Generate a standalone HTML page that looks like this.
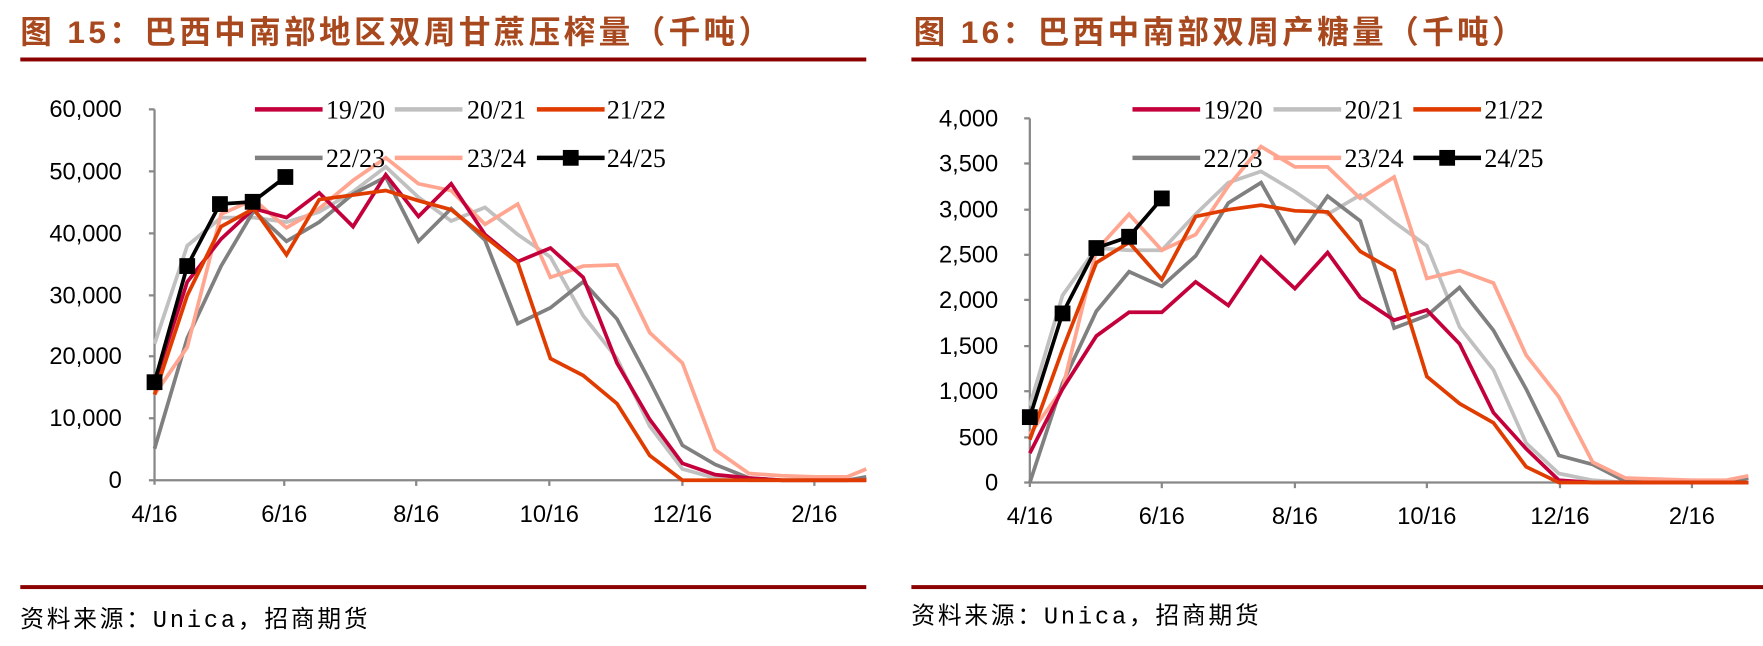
<!DOCTYPE html>
<html><head><meta charset="utf-8"><style>
html,body{margin:0;padding:0;background:#fff;}
svg{display:block;}
.t{font-family:"Liberation Sans","Noto Sans CJK SC",sans-serif;font-weight:bold;fill:#A8481E;font-size:28px;letter-spacing:3px;}
.ax{font-family:"Liberation Sans",sans-serif;font-size:21px;fill:#000;}
.lg{font-family:"Liberation Serif",serif;font-size:23px;fill:#000;}
.src{font-family:"Liberation Mono","Noto Sans CJK SC",monospace;font-size:21px;fill:#000;letter-spacing:2.5px;}
polyline{fill:none;stroke-width:3.3;stroke-linejoin:miter;}
</style></head><body>
<svg width="1763" height="646" viewBox="0 0 1563 573" preserveAspectRatio="none">
<!-- LEFT -->
<text class="t" x="18" y="38">图 15：巴西中南部地区双周甘蔗压榨量（千吨）</text>
<rect x="18" y="51" width="750" height="3.5" fill="#8B0000"/>
<rect x="18" y="519" width="750" height="3.5" fill="#8B0000"/>
<text class="src" x="18" y="556">资料来源：Unica，招商期货</text>
<g stroke="#888" stroke-width="2">
<line x1="137" y1="97" x2="137" y2="430"/>
<line x1="137" y1="426" x2="768" y2="426"/>
<line x1="132" y1="97" x2="137" y2="97"/><line x1="132" y1="152" x2="137" y2="152"/><line x1="132" y1="207" x2="137" y2="207"/><line x1="132" y1="262" x2="137" y2="262"/><line x1="132" y1="316" x2="137" y2="316"/><line x1="132" y1="371" x2="137" y2="371"/><line x1="132" y1="426" x2="137" y2="426"/>
<line x1="252" y1="426" x2="252" y2="431"/><line x1="369" y1="426" x2="369" y2="431"/><line x1="487" y1="426" x2="487" y2="431"/><line x1="605" y1="426" x2="605" y2="431"/><line x1="722" y1="426" x2="722" y2="431"/>
</g>
<g class="ax" text-anchor="end">
<text x="108" y="104">60,000</text><text x="108" y="159">50,000</text><text x="108" y="214">40,000</text><text x="108" y="269">30,000</text><text x="108" y="323">20,000</text><text x="108" y="378">10,000</text><text x="108" y="433">0</text>
</g>
<g class="ax" text-anchor="middle">
<text x="137" y="463">4/16</text><text x="252" y="463">6/16</text><text x="369" y="463">8/16</text><text x="487" y="463">10/16</text><text x="605" y="463">12/16</text><text x="722" y="463">2/16</text>
</g>
<polyline stroke="#C0C0C0" points="137,305 166,218 196,193 225,193 254,197 283,188 313,170 342,148 371,175 400,196 430,184 459,208 488,228 517,280 547,318 576,378 605,416 634,424 664,426 693,426 722,426 768,426"/>
<polyline stroke="#808080" points="137,398 166,300 196,236 225,187 254,214 283,197 313,172 342,157 371,214 400,185 430,213 459,287 488,273 517,250 547,283 576,338 605,395 634,412 664,424 693,426 722,426 751,426 768,423"/>
<polyline stroke="#FFA590" points="137,350 166,308 196,190 225,177 254,202 283,185 313,160 342,140 371,163 400,169 430,199 459,181 488,246 517,236 547,235 576,295 605,322 634,399 664,420 693,422 722,423 751,423 768,416"/>
<polyline stroke="#C4003C" points="137,340 166,250 196,212 225,185 254,193 283,171 313,201 342,155 371,192 400,163 430,208 459,232 488,220 517,246 547,322 576,372 605,411 634,421 664,424 693,426 722,426 768,426"/>
<polyline stroke="#E03C00" points="137,350 166,262 196,201 225,185 254,226 283,177 313,173 342,169 371,178 400,186 430,210 459,233 488,318 517,333 547,358 576,404 605,426 634,426 664,426 722,426 768,426"/>
<polyline stroke="#000" points="137,339 166,236 195,181 224,179 253,157"/>
<g fill="#000"><rect x="130" y="332" width="14" height="14"/><rect x="159" y="229" width="14" height="14"/><rect x="188" y="174" width="14" height="14"/><rect x="217" y="172" width="14" height="14"/><rect x="246" y="150" width="14" height="14"/></g>
<g stroke-width="4">
<line x1="226" y1="97" x2="286" y2="97" stroke="#C4003C"/>
<line x1="350" y1="97" x2="410" y2="97" stroke="#C0C0C0"/>
<line x1="476" y1="97" x2="536" y2="97" stroke="#E03C00"/>
<line x1="226" y1="140" x2="286" y2="140" stroke="#808080"/>
<line x1="350" y1="140" x2="410" y2="140" stroke="#FFA590"/>
<line x1="476" y1="140" x2="536" y2="140" stroke="#000"/>
</g>
<rect x="499" y="133" width="14" height="14" fill="#000"/>
<g class="lg"><text x="289" y="105">19/20</text><text x="414" y="105">20/21</text><text x="538" y="105">21/22</text><text x="289" y="148">22/23</text><text x="414" y="148">23/24</text><text x="538" y="148">24/25</text></g>

<!-- RIGHT -->
<text class="t" x="810" y="38">图 16：巴西中南部双周产糖量（千吨）</text>
<rect x="808" y="51" width="755" height="3.5" fill="#8B0000"/>
<rect x="808" y="519" width="755" height="3.5" fill="#8B0000"/>
<text class="src" x="808" y="553">资料来源：Unica，招商期货</text>
<g stroke="#888" stroke-width="2">
<line x1="913" y1="105" x2="913" y2="432"/>
<line x1="913" y1="428" x2="1550" y2="428"/>
<line x1="908" y1="105" x2="913" y2="105"/><line x1="908" y1="145" x2="913" y2="145"/><line x1="908" y1="186" x2="913" y2="186"/><line x1="908" y1="226" x2="913" y2="226"/><line x1="908" y1="266" x2="913" y2="266"/><line x1="908" y1="307" x2="913" y2="307"/><line x1="908" y1="347" x2="913" y2="347"/><line x1="908" y1="388" x2="913" y2="388"/><line x1="908" y1="428" x2="913" y2="428"/>
<line x1="1030" y1="428" x2="1030" y2="433"/><line x1="1148" y1="428" x2="1148" y2="433"/><line x1="1265" y1="428" x2="1265" y2="433"/><line x1="1383" y1="428" x2="1383" y2="433"/><line x1="1500" y1="428" x2="1500" y2="433"/>
</g>
<g class="ax" text-anchor="end">
<text x="885" y="112">4,000</text><text x="885" y="152">3,500</text><text x="885" y="193">3,000</text><text x="885" y="233">2,500</text><text x="885" y="273">2,000</text><text x="885" y="314">1,500</text><text x="885" y="354">1,000</text><text x="885" y="395">500</text><text x="885" y="435">0</text>
</g>
<g class="ax" text-anchor="middle">
<text x="913" y="465">4/16</text><text x="1030" y="465">6/16</text><text x="1148" y="465">8/16</text><text x="1265" y="465">10/16</text><text x="1383" y="465">12/16</text><text x="1500" y="465">2/16</text>
</g>
<polyline stroke="#C0C0C0" points="913,360 942,262 972,220 1001,222 1030,222 1060,190 1089,162 1118,152 1148,170 1177,190 1206,173 1236,197 1265,218 1294,290 1324,328 1353,393 1382,420 1412,426 1441,428 1500,428 1550,428"/>
<polyline stroke="#808080" points="913,428 942,340 972,276 1001,241 1030,254 1060,227 1089,180 1118,162 1148,215 1177,174 1206,196 1236,291 1265,280 1294,255 1324,293 1353,345 1382,404 1412,412 1441,427 1500,428 1530,428 1550,424"/>
<polyline stroke="#FFA590" points="913,385 942,345 972,222 1001,190 1030,222 1060,208 1089,165 1118,130 1148,148 1177,148 1206,176 1236,157 1265,247 1294,240 1324,251 1353,315 1382,352 1412,410 1441,424 1470,425 1500,426 1530,426 1550,422"/>
<polyline stroke="#C4003C" points="913,402 942,345 972,298 1001,277 1030,277 1060,250 1089,271 1118,228 1148,256 1177,224 1206,264 1236,284 1265,275 1294,305 1324,366 1353,398 1382,426 1412,428 1550,428"/>
<polyline stroke="#E03C00" points="913,390 942,310 972,233 1001,215 1030,248 1060,192 1089,186 1118,182 1148,187 1177,188 1206,223 1236,240 1265,334 1294,358 1324,375 1353,414 1382,428 1550,428"/>
<polyline stroke="#000" points="913,370 942,278 972,220 1001,210 1030,176"/>
<g fill="#000"><rect x="906" y="363" width="14" height="14"/><rect x="935" y="271" width="14" height="14"/><rect x="965" y="213" width="14" height="14"/><rect x="994" y="203" width="14" height="14"/><rect x="1023" y="169" width="14" height="14"/></g>
<g stroke-width="4">
<line x1="1004" y1="97" x2="1064" y2="97" stroke="#C4003C"/>
<line x1="1129" y1="97" x2="1189" y2="97" stroke="#C0C0C0"/>
<line x1="1253" y1="97" x2="1313" y2="97" stroke="#E03C00"/>
<line x1="1004" y1="140" x2="1064" y2="140" stroke="#808080"/>
<line x1="1129" y1="140" x2="1189" y2="140" stroke="#FFA590"/>
<line x1="1253" y1="140" x2="1313" y2="140" stroke="#000"/>
</g>
<rect x="1276" y="133" width="14" height="14" fill="#000"/>
<g class="lg"><text x="1067" y="105">19/20</text><text x="1192" y="105">20/21</text><text x="1316" y="105">21/22</text><text x="1067" y="148">22/23</text><text x="1192" y="148">23/24</text><text x="1316" y="148">24/25</text></g>
</svg>
</body></html>
